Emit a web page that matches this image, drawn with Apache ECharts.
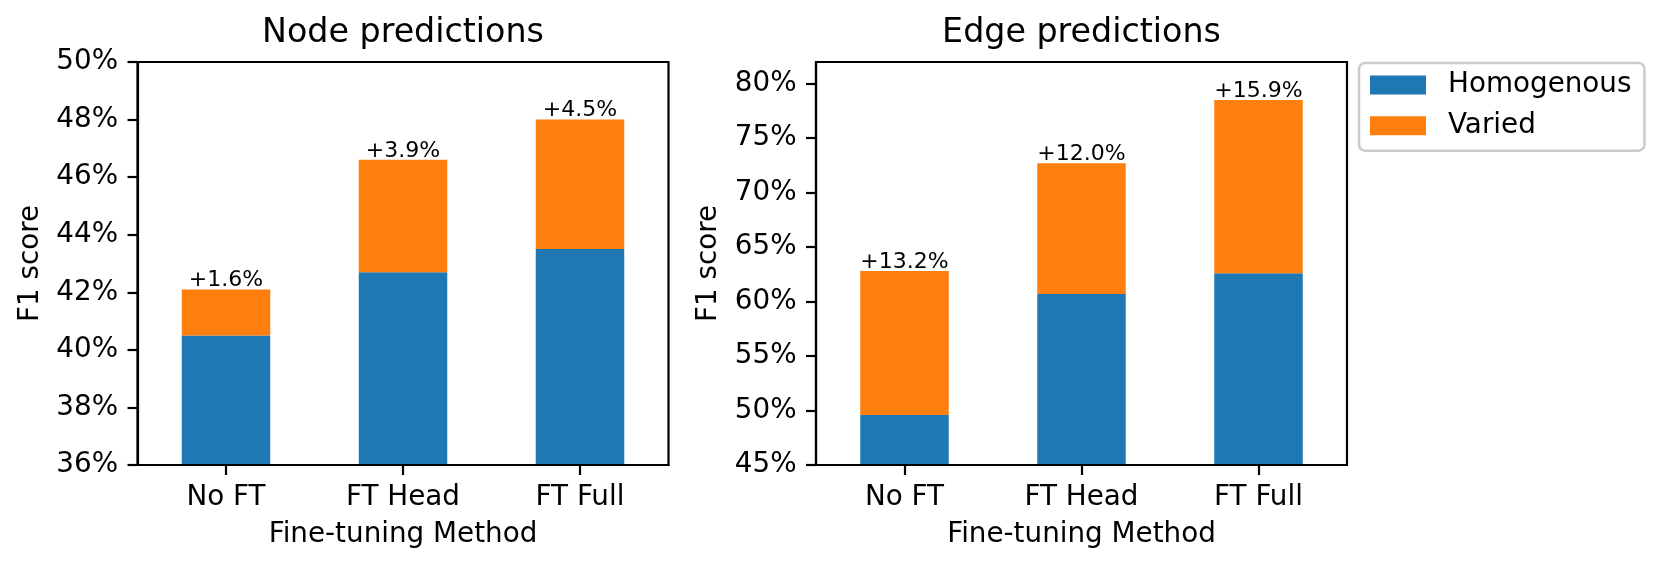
<!DOCTYPE html>
<html><head><meta charset="utf-8">
<script src="https://cdn.jsdelivr.net/npm/echarts@6.0.0/dist/echarts.min.js"></script>
<style>html,body{margin:0;padding:0;background:#fff}#c{width:1660px;height:569px}</style>
</head><body><div id="c"></div>
<script>
const categories = ['No FT', 'FT Head', 'FT Full'];
const seriesNames = ['Homogenous', 'Varied'];
const titles = ['Node predictions', 'Edge predictions'];
const nodeHomogenous = [40.5, 42.7, 43.5];
const nodeVaried = [1.6, 3.9, 4.5];
const edgeHomogenous = [49.6, 60.7, 62.6];
const edgeVaried = [13.2, 12.0, 15.9];
const nodeTicks = [36, 38, 40, 42, 44, 46, 48, 50];
const edgeTicks = [45, 50, 55, 60, 65, 70, 75, 80];
const xTitle = 'Fine-tuning Method';
const yTitle = 'F1 score';

const FONT = 'DejaVu Sans';
const BLUE = '#1f77b4', ORANGE = '#ff7f0e';
const gridL = [137.5, 816], gridTop = 62, gridW = 531, gridH = 403;

const chart = echarts.init(document.getElementById('c'), null, {renderer: 'canvas'});

const grids = gridL.map(l => ({left: l, top: gridTop, width: gridW, height: gridH, show: true,
  borderColor: '#000', borderWidth: 2.2, backgroundColor: 'rgba(0,0,0,0)', containLabel: false}));

const xAxes = [0, 1].map(i => ({
  type: 'category', gridIndex: i, data: categories, z: 10,
  name: xTitle, nameLocation: 'middle', nameGap: 56,
  nameTextStyle: {fontFamily: FONT, fontSize: 27.8, color: '#000'},
  axisLine: {show: true, onZero: false, lineStyle: {color: '#000', width: 2.2}},
  axisTick: {show: true, alignWithLabel: true, length: 10, lineStyle: {color: '#000', width: 2.2}},
  axisLabel: {fontFamily: FONT, fontSize: 27.8, color: '#000', margin: 19},
  splitLine: {show: false}
}));

const yTickSets = [nodeTicks, edgeTicks];
const yRanges = [[36, 50], [45, 82]];
const yAxes = [0, 1].map(i => ({
  type: 'value', gridIndex: i, min: yRanges[i][0], max: yRanges[i][1],
  interval: i === 0 ? 2 : 5, z: 10,
  name: yTitle, nameLocation: 'middle', nameGap: 93,
  nameTextStyle: {fontFamily: FONT, fontSize: 27.8, color: '#000'},
  axisLine: {show: true, lineStyle: {color: '#000', width: 2.2}},
  axisTick: {show: true, length: 10, lineStyle: {color: '#000', width: 2.2}, customValues: yTickSets[i]},
  axisLabel: {fontFamily: FONT, fontSize: 27.8, color: '#000', margin: 19.4,
    formatter: v => v + '%', customValues: yTickSets[i]},
  splitLine: {show: false}
}));

const labelCfg = {show: true, position: 'top', distance: -2, fontFamily: FONT, fontSize: 22, color: '#000',
  formatter: p => '+' + p.value.toFixed(1) + '%'};

const homog = [nodeHomogenous, edgeHomogenous];
const varied = [nodeVaried, edgeVaried];
const series = [];
[0, 1].forEach(i => {
  series.push({type: 'bar', name: seriesNames[0], xAxisIndex: i, yAxisIndex: i, stack: 's' + i,
    data: homog[i], barWidth: '50%', itemStyle: {color: BLUE}, emphasis: {disabled: true}});
  series.push({type: 'bar', name: seriesNames[1], xAxisIndex: i, yAxisIndex: i, stack: 's' + i,
    data: varied[i], barWidth: '50%', itemStyle: {color: ORANGE}, label: labelCfg, emphasis: {disabled: true}});
});

chart.setOption({
  animation: false,
  backgroundColor: '#fff',
  textStyle: {fontFamily: FONT},
  title: [0, 1].map(i => ({text: titles[i], left: gridL[i] + gridW / 2, top: 17, textAlign: 'center',
    padding: 0, textStyle: {fontFamily: FONT, fontSize: 33.3, fontWeight: 'normal', color: '#000'}})),
  legend: {
    orient: 'vertical', left: 1359, top: 63, data: seriesNames, icon: 'rect',
    itemWidth: 56, itemHeight: 19, itemGap: 12.7, padding: [8, 13, 11, 11],
    backgroundColor: '#fff', borderColor: '#cccccc', borderWidth: 2.5, borderRadius: 6,
    textStyle: {fontFamily: FONT, fontSize: 27.8, color: '#000', padding: [0, 0, 0, 17]},
    selectedMode: false
  },
  grid: grids,
  xAxis: xAxes,
  yAxis: yAxes,
  series: series
});
</script>
</body></html>
